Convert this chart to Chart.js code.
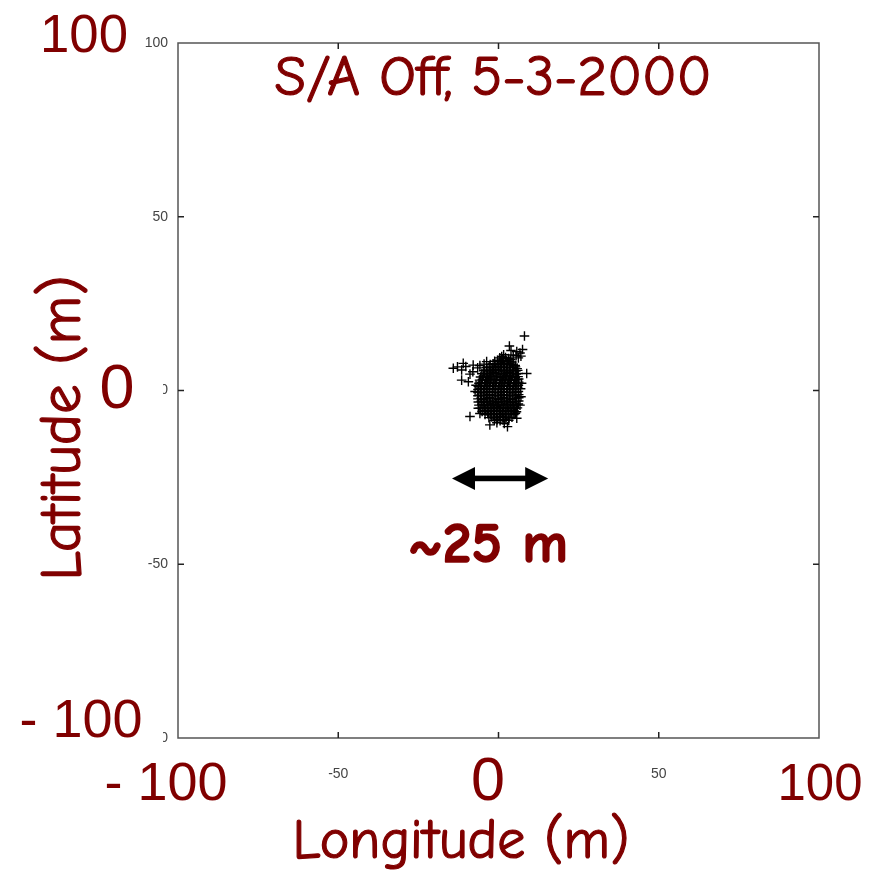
<!DOCTYPE html>
<html><head><meta charset="utf-8">
<script src="https://cdn.jsdelivr.net/npm/chart.js@4"></script>
<style>html,body{margin:0;padding:0;background:#fff}canvas{display:block}</style>
</head><body>
<canvas id="c" width="879" height="876"></canvas>
<script>
// GPS position fixes, metres from the mean position [longitude, latitude]
const coreFixes = [
 [0.4,9.4],[1.3,9.1],[2.2,9.5],[3.1,9.2],[3.8,8.9],
 [-1.2,8.4],[-0.3,8.7],[0.6,8.5],[1.5,8.3],[2.4,8.6],[3.3,8.4],[4.2,8.2],
 [-2.6,7.5],[-1.7,7.7],[-0.8,7.4],[0.1,7.6],[1.0,7.8],[1.9,7.5],[2.8,7.7],[3.7,7.4],[4.6,7.6],[5.2,7.2],
 [-3.7,6.6],[-2.9,6.8],[-2.0,6.5],[-1.1,6.7],[-0.2,6.9],[0.7,6.6],[1.6,6.8],[2.5,6.5],[3.4,6.7],[4.3,6.6],[5.3,6.8],[5.8,6.3],
 [-4.6,5.7],[-3.6,5.9],[-2.7,5.6],[-1.8,5.8],[-0.9,6.0],[0.0,5.7],[0.9,5.9],[1.8,5.6],[2.7,5.8],[3.6,5.7],[4.5,5.9],[5.4,5.6],[6.0,5.8],
 [-5.2,4.8],[-4.3,5.0],[-3.4,4.7],[-2.5,4.9],[-1.6,5.1],[-0.7,4.8],[0.2,5.0],[1.1,4.7],[2.0,4.9],[2.9,5.1],[3.8,4.8],[4.7,5.0],[5.6,4.7],[6.1,4.9],
 [-5.6,3.9],[-4.7,4.1],[-3.8,3.8],[-2.9,4.0],[-2.0,4.2],[-1.1,3.9],[-0.2,4.1],[0.7,3.8],[1.6,4.0],[2.5,4.2],[3.4,3.9],[4.3,4.1],[5.2,3.8],[6.1,4.0],
 [-5.9,3.0],[-5.0,3.2],[-4.1,2.9],[-3.2,3.1],[-2.3,3.3],[-1.4,3.0],[-0.5,3.2],[0.4,2.9],[1.3,3.1],[2.2,3.3],[3.1,3.0],[4.0,3.2],[4.9,2.9],[5.8,3.1],[6.3,3.3],
 [-6.1,2.1],[-5.2,2.3],[-4.3,2.0],[-3.4,2.2],[-2.5,2.4],[-1.6,2.1],[-0.7,2.3],[0.2,2.0],[1.1,2.2],[2.0,2.4],[2.9,2.1],[3.8,2.3],[4.7,2.0],[5.6,2.2],[6.3,2.4],
 [-6.3,1.2],[-5.4,1.4],[-4.5,1.1],[-3.6,1.3],[-2.7,1.5],[-1.8,1.2],[-0.9,1.4],[0.0,1.1],[0.9,1.3],[1.8,1.5],[2.7,1.2],[3.6,1.4],[4.5,1.1],[5.4,1.3],[6.2,1.5],
 [-6.4,0.3],[-5.5,0.5],[-4.6,0.2],[-3.7,0.4],[-2.8,0.6],[-1.9,0.3],[-1.0,0.5],[-0.1,0.2],[0.8,0.4],[1.7,0.6],[2.6,0.3],[3.5,0.5],[4.4,0.2],[5.3,0.4],[6.2,0.6],
 [-6.4,-0.6],[-5.5,-0.4],[-4.6,-0.7],[-3.7,-0.5],[-2.8,-0.3],[-1.9,-0.6],[-1.0,-0.4],[-0.1,-0.7],[0.8,-0.5],[1.7,-0.3],[2.6,-0.6],[3.5,-0.4],[4.4,-0.7],[5.3,-0.5],[6.2,-0.3],
 [-6.4,-1.5],[-5.5,-1.3],[-4.6,-1.6],[-3.7,-1.4],[-2.8,-1.2],[-1.9,-1.5],[-1.0,-1.3],[-0.1,-1.6],[0.8,-1.4],[1.7,-1.2],[2.6,-1.5],[3.5,-1.3],[4.4,-1.6],[5.3,-1.4],[6.3,-1.2],
 [-6.4,-2.4],[-5.5,-2.2],[-4.6,-2.5],[-3.7,-2.3],[-2.8,-2.1],[-1.9,-2.4],[-1.0,-2.2],[-0.1,-2.5],[0.8,-2.3],[1.7,-2.1],[2.6,-2.4],[3.5,-2.2],[4.4,-2.5],[5.3,-2.3],[6.3,-2.1],
 [-6.3,-3.3],[-5.4,-3.1],[-4.5,-3.4],[-3.6,-3.2],[-2.7,-3.0],[-1.8,-3.3],[-0.9,-3.1],[0.0,-3.4],[0.9,-3.2],[1.8,-3.0],[2.7,-3.3],[3.6,-3.1],[4.5,-3.4],[5.4,-3.2],[6.3,-3.0],
 [-6.1,-4.2],[-5.2,-4.0],[-4.3,-4.3],[-3.4,-4.1],[-2.5,-3.9],[-1.6,-4.2],[-0.7,-4.0],[0.2,-4.3],[1.1,-4.1],[2.0,-3.9],[2.9,-4.2],[3.8,-4.0],[4.7,-4.3],[5.6,-4.1],[6.2,-3.9],
 [-5.7,-5.1],[-4.8,-4.9],[-3.9,-5.2],[-3.0,-5.0],[-2.1,-4.8],[-1.2,-5.1],[-0.3,-4.9],[0.6,-5.2],[1.5,-5.0],[2.4,-4.8],[3.3,-5.1],[4.2,-4.9],[5.1,-5.2],[5.9,-5.0],
 [-5.1,-6.0],[-4.2,-5.8],[-3.3,-6.1],[-2.4,-5.9],[-1.5,-5.7],[-0.6,-6.0],[0.3,-5.8],[1.2,-6.1],[2.1,-5.9],[3.0,-5.7],[3.9,-6.0],[4.8,-5.8],[5.6,-6.1],
 [-4.2,-6.9],[-3.3,-6.7],[-2.4,-7.0],[-1.5,-6.8],[-0.6,-6.6],[0.3,-6.9],[1.2,-6.7],[2.1,-7.0],[3.0,-6.8],[3.9,-6.6],[4.8,-6.9],[5.3,-6.5],
 [-3.0,-7.8],[-2.1,-7.6],[-1.2,-7.9],[-0.3,-7.7],[0.6,-7.5],[1.5,-7.8],[2.4,-7.6],[3.3,-7.9],[4.2,-7.7],
 [-1.3,-8.6],[-0.4,-8.4],[0.5,-8.7],[1.4,-8.5],[2.3,-8.3],[3.2,-8.6]
];
const strayFixes = [
 [8.1,15.7],[3.4,12.8],[3.9,11.5],[5.7,11.2],[6.7,10.8],[7.5,11.8],[4.6,10.2],[5.5,10.0],[1.6,10.3],[1.0,9.8],
 [6.2,9.4],[7.0,9.9],[8.8,4.9],[7.2,2.1],[6.9,0.5],[7.0,-1.8],[6.7,-4.2],[5.7,-8.0],[5.2,-6.6],
 [2.8,-10.4],[-2.7,-9.9],[-0.5,-9.3],[1.8,-9.5],[-8.9,-7.5],[-6.3,-5.1],[-5.8,-6.6],[-7.3,-0.3],[-7.0,1.5],
 [-14.1,6.4],[-12.8,6.8],[-11.0,7.8],[-11.5,5.9],[-10.2,6.9],[-7.9,7.3],[-11.5,3.0],[-9.4,2.5],[-8.0,5.4],
 [-8.9,4.7],[-3.7,8.3],[-6.5,6.5],[-5.8,7.2],[-4.5,7.6]
];
const axisMin = -100, axisMax = 100, tickStep = 50;
const innerTicks = [-50, 0, 50];
const titleText = 'S/A Off, 5-3-2000';
const xTitle = 'Longitude (m)';
const yTitle = 'Latitude (m)';
const bigXLabels = ['- 100', '0', '100'];
const bigYLabels = ['100', '0', '- 100'];
const spreadLabel = '~25 m';
const spreadFrom = -14.5, spreadTo = 15.5, spreadAt = -25.3;

const RED = '#800000';
const COMIC = "'Comic Sans MS','Comic Neue','DejaVu Sans',sans-serif";
const NUM = "'Liberation Sans',Arial,sans-serif";

function fitSize(ctx, text, weight, family, targetW) {
  ctx.font = weight + ' 100px ' + family;
  return 100 * targetW / ctx.measureText(text).width;
}
function drawText(ctx, text, cx, baseY, targetW, weight, family, bg, stroke) {
  const s = fitSize(ctx, text, weight, family, targetW);
  ctx.font = weight + ' ' + s + 'px ' + family;
  ctx.textAlign = 'center';
  ctx.textBaseline = 'alphabetic';
  if (bg) { ctx.fillStyle = '#fff'; ctx.fillRect(bg[0], bg[1], bg[2] - bg[0], bg[3] - bg[1]); }
  ctx.fillStyle = RED;
  ctx.fillText(text, cx, baseY);
  if (stroke) { ctx.strokeStyle = RED; ctx.lineWidth = stroke; ctx.lineJoin = 'round'; ctx.strokeText(text, cx, baseY); }
}

const overlay = {
  id: 'overlay',
  beforeDraw(chart) {
    const c = chart.ctx; c.save(); c.fillStyle = '#fff';
    c.fillRect(0, 0, chart.width, chart.height); c.restore();
  },
  afterDraw(chart) {
    const c = chart.ctx, a = chart.chartArea;
    const xs = chart.scales.x, ys = chart.scales.y;
    c.save();
    c.strokeStyle = '#555'; c.lineWidth = 1.5;
    c.strokeRect(a.left, a.top, a.right - a.left, a.bottom - a.top);
    c.strokeStyle = '#222'; c.lineWidth = 1.5; c.beginPath();
    innerTicks.forEach(v => {
      const px = xs.getPixelForValue(v), py = ys.getPixelForValue(v);
      c.moveTo(px, a.bottom); c.lineTo(px, a.bottom - 6);
      c.moveTo(px, a.top); c.lineTo(px, a.top + 6);
      c.moveTo(a.left, py); c.lineTo(a.left + 6, py);
      c.moveTo(a.right, py); c.lineTo(a.right - 6, py);
    });
    c.stroke();
    const x1 = xs.getPixelForValue(spreadFrom), x2 = xs.getPixelForValue(spreadTo);
    const y0 = ys.getPixelForValue(spreadAt);
    const hl = 23, hh = 11.5;
    c.fillStyle = '#000';
    c.fillRect(x1 + hl - 1, y0 - 2.8, (x2 - x1) - 2 * hl + 2, 5.6);
    c.beginPath(); c.moveTo(x1, y0); c.lineTo(x1 + hl, y0 - hh); c.lineTo(x1 + hl, y0 + hh); c.closePath(); c.fill();
    c.beginPath(); c.moveTo(x2, y0); c.lineTo(x2 - hl, y0 - hh); c.lineTo(x2 - hl, y0 + hh); c.closePath(); c.fill();
    drawText(c, bigYLabels[0], 84, 52, 88, 'normal', NUM, null, 0);
    drawText(c, bigYLabels[1], 117, 408, 35, 'normal', NUM, [92, 366, 163, 414], 0);
    drawText(c, bigYLabels[2], 81, 737, 123, 'normal', NUM, [14, 696, 163, 745], 0);
    drawText(c, bigXLabels[0], 166, 800, 123, 'normal', NUM, [100, 756, 234, 806], 0);
    drawText(c, bigXLabels[1], 488, 800, 34, 'normal', NUM, [466, 756, 512, 806], 0);
    drawText(c, bigXLabels[2], 820, 800, 85, 'normal', NUM, [772, 756, 868, 806], 0);
    drawText(c, titleText, 493, 95, 437, 'normal', COMIC, null, 1.2);
    drawText(c, xTitle, 461, 858, 337, 'normal', COMIC, null, 1.2);
    drawText(c, spreadLabel, 488, 562, 160, 'bold', COMIC, null, 1.6);
    c.save(); c.translate(80, 428); c.rotate(-Math.PI / 2);
    drawText(c, yTitle, 0, 0, 305, 'normal', COMIC, null, 1.2);
    c.restore();
    c.restore();
  }
};

new Chart(document.getElementById('c'), {
  type: 'scatter',
  data: {
    datasets: [{
      data: coreFixes.concat(strayFixes).map(p => ({ x: p[0], y: p[1] })),
      pointStyle: 'cross', radius: 4.8, borderWidth: 1.4,
      borderColor: '#000', backgroundColor: '#000'
    }]
  },
  options: {
    responsive: false, animation: false,
    layout: { padding: { left: 0, right: 60, top: 43, bottom: 0 } },
    plugins: { legend: { display: false }, tooltip: { enabled: false } },
    scales: {
      x: {
        min: axisMin, max: axisMax,
        afterFit: s => { s.height = 138; },
        grid: { display: false, drawTicks: false },
        border: { display: false },
        ticks: { stepSize: tickStep, padding: 28, color: '#444', font: { size: 14, family: NUM } }
      },
      y: {
        min: axisMin, max: axisMax,
        afterFit: s => { s.width = 178; },
        grid: { display: false, drawTicks: false },
        border: { display: false },
        ticks: { stepSize: tickStep, padding: 10, color: '#444', font: { size: 14, family: NUM } }
      }
    }
  },
  plugins: [overlay]
});
</script>
</body></html>
